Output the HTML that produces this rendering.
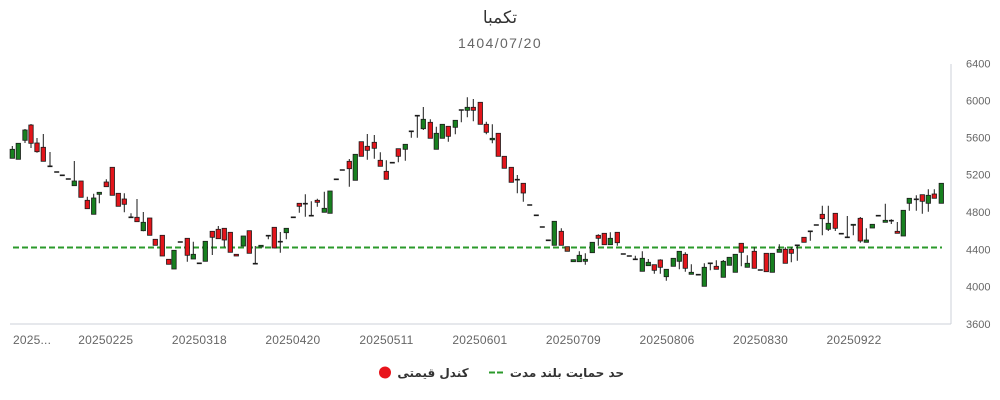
<!DOCTYPE html>
<html><head><meta charset="utf-8"><style>
html,body{margin:0;padding:0;background:#fff;width:1000px;height:400px;overflow:hidden}
svg{display:block}
</style></head><body>
<svg width="1000" height="400" viewBox="0 0 1000 400" xmlns="http://www.w3.org/2000/svg">
<text x="500" y="23" text-anchor="middle" font-family="'DejaVu Sans',sans-serif" font-size="17" fill="#333">تکمبا</text>
<text x="500" y="48" text-anchor="middle" font-family="'Liberation Sans',sans-serif" font-size="14" letter-spacing="1.4" fill="#666">1404/07/20</text>

<line x1="951" y1="64" x2="951" y2="324" stroke="#ccd1d9" stroke-width="1"/>
<line x1="10" y1="324" x2="951" y2="324" stroke="#ccd1d9" stroke-width="1"/>

<g font-family="'Liberation Sans',sans-serif" font-size="11" fill="#666">
<text x="966" y="67.5">6400</text>
<text x="966" y="104.5">6000</text>
<text x="966" y="141.5">5600</text>
<text x="966" y="178.5">5200</text>
<text x="966" y="216">4800</text>
<text x="966" y="253.5">4400</text>
<text x="966" y="290.5">4000</text>
<text x="966" y="328">3600</text>
</g>
<g font-family="'Liberation Sans',sans-serif" font-size="12" fill="#666" text-anchor="middle" letter-spacing="0.2">
<text x="13" y="344" text-anchor="start">2025...</text>
<text x="105.8" y="344">20250225</text>
<text x="199.4" y="344">20250318</text>
<text x="292.9" y="344">20250420</text>
<text x="386.4" y="344">20250511</text>
<text x="479.9" y="344">20250601</text>
<text x="573.4" y="344">20250709</text>
<text x="667" y="344">20250806</text>
<text x="760.5" y="344">20250830</text>
<text x="854" y="344">20250922</text>
</g>

<line x1="13" y1="247.5" x2="942" y2="247.5" stroke="#2b9a2b" stroke-width="2" stroke-dasharray="6,3"/>

<path fill="none" stroke="#1a1a1a" stroke-width="1" d="M12.3 146V158.3M25 129V143M31 124V148M37 138V152.7M43.3 134V161.3M50 152V166.3M74.3 161V185.7M87.3 196.7V208.7M93.7 193.7V214.3M99.3 192.3V203.3M106.3 179.3V186.7M124.3 193.3V212.3M131 213.3V217.3M137 199V221.7M143.3 212V231.3M187.3 238.3V261.7M193.3 241.7V259M212.3 231.3V255M218.3 226V238.7M224.3 228.3V247.3M255.3 246V263.7M268.3 235.7V239.3M280.3 232V252.7M286.3 228.3V239.3M299.3 203.3V212.7M305.3 194.3V216.7M311.3 201.3V215.7M317.3 198.7V206.7M324.3 191.7V212.3M349.3 159V186.7M367.3 134V159.7M374.3 135V158.7M380.3 152.3V166.3M386.3 160.3V179.3M398.3 148.7V162.3M405.3 144.3V160.7M411.3 131.3V137.7M417.3 115.7V137.7M423.3 107V130M430.3 119.3V138.3M436.3 126.7V149.3M448.3 126.3V141.7M455.3 120.3V134.3M461.3 110V122.3M467.3 97.3V117.3M473.3 99V121.3M486.3 121.7V134.3M492.3 124.3V143.3M517.3 175V193.3M523.3 183.3V201.7M561.3 228.3V245.3M579.3 251.3V261.7M585.3 253.3V264.7M598.3 234.3V245.7M610.3 232.3V244.7M617.3 232.3V245.7M635.3 255.7V259.3M642.3 251.3V271.3M648.3 259V265.7M654.3 264.7V273.7M660.3 259.3V273.7M666.3 269.3V280.7M679.3 251.3V269.3M685.3 252.3V271.7M691.3 264.3V274.3M704.3 263.3V286.3M710.3 263.3V270.3M716.3 260.3V269.3M723.3 260V277.3M741.3 243.3V266.3M747.3 255.3V267.3M754.3 247.3V268.3M779.3 244.3V252.3M785.3 247.3V263.3M791.3 247.3V262.3M797.3 245.3V260.7M810.3 231.3V240.7M822.3 205.7V235.3M828.3 205.7V231M835.3 213.3V231M847.3 216V237.3M853.3 224.3V235.3M860.3 217V242.7M866.3 228.3V242.3M885.3 203.7V222.3M891.3 219.3V224M897.3 222V233.3M909.3 198.3V210.7M916.3 195.3V210.7M922.3 194.7V213.7M928.3 189.3V211.7M934.3 189.3V198.3"/>

<path fill="none" stroke="#1a1a1a" stroke-width="1.6" d="M47.5 166.3h5M54.2 172h5M59.8 175.3h5M65.8 179h5M128.5 217.3h5M177.8 242h5M196.8 263.3h5M252.8 263.7h5M265.8 235.7h5M277.8 241.7h5M290.8 217.3h5M302.8 203.7h5M308.8 215.7h5M333.8 179.3h5M339.8 170h5M389.8 162.7h5M408.8 131.3h5M414.8 115.7h5M458.8 110h5M514.8 179.7h5M527.2 205h5M533.8 215.3h5M539.8 227h5M545.8 240.3h5M620.8 254h5M626.8 256h5M632.8 259.3h5M695.8 274.7h5M707.8 263.3h5M757.8 270h5M794.8 245.3h5M807.8 231.3h5M813.8 225h5M838.8 233.7h5M844.8 237.3h5M875.8 215.7h5M888.8 220.7h5M913.8 199.3h5"/>

<g fill="#17801f" stroke="#1a1a1a" stroke-width="0.8">
<rect x="10.1" y="149.3" width="4.4" height="9"/>
<rect x="16.1" y="143.3" width="4.4" height="16"/>
<rect x="22.8" y="130" width="4.4" height="10.3"/>
<rect x="72.1" y="181" width="4.4" height="4.7"/>
<rect x="91.5" y="198" width="4.4" height="16.3"/>
<rect x="97.1" y="192.3" width="4.4" height="2"/>
<rect x="141.1" y="222.3" width="4.4" height="8.4"/>
<rect x="171.8" y="250.3" width="4.4" height="18.7"/>
<rect x="191.1" y="254.3" width="4.4" height="4.7"/>
<rect x="203.1" y="241.3" width="4.4" height="20"/>
<rect x="241.1" y="236" width="4.4" height="10"/>
<rect x="258.8" y="245.3" width="4.4" height="1.7"/>
<rect x="284.1" y="228.3" width="4.4" height="4.4"/>
<rect x="322.1" y="208.3" width="4.4" height="4"/>
<rect x="327.8" y="191" width="4.4" height="22.3"/>
<rect x="353.1" y="154.3" width="4.4" height="26"/>
<rect x="403.1" y="144.3" width="4.4" height="5"/>
<rect x="421.1" y="119.3" width="4.4" height="9.4"/>
<rect x="434.1" y="133.3" width="4.4" height="16"/>
<rect x="440.1" y="124.3" width="4.4" height="14"/>
<rect x="453.1" y="120.3" width="4.4" height="7"/>
<rect x="465.1" y="107.3" width="4.4" height="3"/>
<rect x="490.1" y="138.3" width="4.4" height="1.5"/>
<rect x="552.1" y="221.3" width="4.4" height="24"/>
<rect x="571.1" y="259.7" width="4.4" height="2"/>
<rect x="577.1" y="255.3" width="4.4" height="6.4"/>
<rect x="583.1" y="259.3" width="4.4" height="2"/>
<rect x="590.1" y="242.3" width="4.4" height="10.4"/>
<rect x="608.1" y="238.3" width="4.4" height="6.4"/>
<rect x="640.1" y="258.3" width="4.4" height="13"/>
<rect x="646.1" y="262.3" width="4.4" height="3.4"/>
<rect x="664.1" y="269.3" width="4.4" height="7.4"/>
<rect x="671.1" y="258.3" width="4.4" height="8"/>
<rect x="677.1" y="251.3" width="4.4" height="10"/>
<rect x="689.1" y="272.3" width="4.4" height="2"/>
<rect x="702.1" y="267.3" width="4.4" height="19"/>
<rect x="721.1" y="261.3" width="4.4" height="16"/>
<rect x="727.1" y="257.3" width="4.4" height="8"/>
<rect x="733.1" y="254.3" width="4.4" height="18"/>
<rect x="745.1" y="263.3" width="4.4" height="4"/>
<rect x="770.1" y="253.3" width="4.4" height="19"/>
<rect x="777.1" y="249.3" width="4.4" height="3"/>
<rect x="826.1" y="223.3" width="4.4" height="6"/>
<rect x="851.1" y="224.3" width="4.4" height="1"/>
<rect x="864.1" y="240" width="4.4" height="2.3"/>
<rect x="870.1" y="224.3" width="4.4" height="3.7"/>
<rect x="883.1" y="220.3" width="4.4" height="2"/>
<rect x="901.1" y="210.3" width="4.4" height="25.7"/>
<rect x="907.1" y="198.3" width="4.4" height="5"/>
<rect x="926.1" y="195.3" width="4.4" height="8"/>
<rect x="939.1" y="183.3" width="4.4" height="20"/>
</g>

<g fill="#e3151b" stroke="#1a1a1a" stroke-width="0.8">
<rect x="28.8" y="125" width="4.4" height="18.3"/>
<rect x="34.8" y="143" width="4.4" height="8.7"/>
<rect x="41.1" y="147.3" width="4.4" height="14"/>
<rect x="78.8" y="181" width="4.4" height="16.3"/>
<rect x="85.1" y="200.3" width="4.4" height="8.4"/>
<rect x="104.1" y="182" width="4.4" height="4.7"/>
<rect x="110.1" y="167.3" width="4.4" height="28"/>
<rect x="116.1" y="193.3" width="4.4" height="13"/>
<rect x="122.1" y="199" width="4.4" height="5.3"/>
<rect x="134.8" y="217.3" width="4.4" height="4.4"/>
<rect x="147.5" y="218" width="4.4" height="17.3"/>
<rect x="153.1" y="239.3" width="4.4" height="6"/>
<rect x="160.1" y="235.3" width="4.4" height="20.7"/>
<rect x="166.5" y="259.3" width="4.4" height="5"/>
<rect x="185.1" y="238.3" width="4.4" height="17"/>
<rect x="210.1" y="231.3" width="4.4" height="6"/>
<rect x="216.1" y="229.3" width="4.4" height="9.4"/>
<rect x="222.1" y="228.3" width="4.4" height="11.7"/>
<rect x="228.1" y="232.3" width="4.4" height="20"/>
<rect x="234.1" y="254.3" width="4.4" height="1.7"/>
<rect x="247.1" y="230.7" width="4.4" height="22.6"/>
<rect x="272.1" y="227.3" width="4.4" height="20.7"/>
<rect x="297.1" y="203.3" width="4.4" height="3"/>
<rect x="315.1" y="200.3" width="4.4" height="2"/>
<rect x="347.1" y="161.3" width="4.4" height="7.4"/>
<rect x="359.1" y="141.7" width="4.4" height="14.6"/>
<rect x="365.1" y="146.3" width="4.4" height="4"/>
<rect x="372.1" y="142.3" width="4.4" height="6"/>
<rect x="378.1" y="160.3" width="4.4" height="6"/>
<rect x="384.1" y="171.3" width="4.4" height="8"/>
<rect x="396.1" y="148.7" width="4.4" height="7.6"/>
<rect x="428.1" y="122.3" width="4.4" height="16"/>
<rect x="446.1" y="126.3" width="4.4" height="10"/>
<rect x="471.1" y="107.3" width="4.4" height="3"/>
<rect x="478.1" y="102.3" width="4.4" height="22"/>
<rect x="484.1" y="124.3" width="4.4" height="8"/>
<rect x="496.1" y="133.3" width="4.4" height="23"/>
<rect x="502.1" y="156.3" width="4.4" height="12"/>
<rect x="509.1" y="167.3" width="4.4" height="15"/>
<rect x="521.1" y="183.3" width="4.4" height="9.7"/>
<rect x="559.1" y="231.3" width="4.4" height="14"/>
<rect x="565.1" y="246.7" width="4.4" height="4.6" fill="#b5401c"/>
<rect x="596.1" y="235.3" width="4.4" height="3"/>
<rect x="602.1" y="233.3" width="4.4" height="11.4"/>
<rect x="615.1" y="232.3" width="4.4" height="10.4"/>
<rect x="652.1" y="264.7" width="4.4" height="5.6"/>
<rect x="658.1" y="260" width="4.4" height="7.3"/>
<rect x="683.1" y="254.3" width="4.4" height="14"/>
<rect x="714.1" y="266.3" width="4.4" height="3"/>
<rect x="739.1" y="243.3" width="4.4" height="9"/>
<rect x="752.1" y="251.3" width="4.4" height="17"/>
<rect x="764.1" y="253.3" width="4.4" height="18.4"/>
<rect x="783.1" y="249.3" width="4.4" height="14"/>
<rect x="789.1" y="249.3" width="4.4" height="4"/>
<rect x="801.8" y="237.3" width="4.4" height="5"/>
<rect x="820.1" y="214.3" width="4.4" height="4.4"/>
<rect x="833.1" y="213.3" width="4.4" height="15"/>
<rect x="858.1" y="218.3" width="4.4" height="22.7"/>
<rect x="895.1" y="231.3" width="4.4" height="2"/>
<rect x="920.1" y="194.7" width="4.4" height="6.6"/>
<rect x="932.1" y="194" width="4.4" height="4.3"/>
</g>

<circle cx="385" cy="372.5" r="6" fill="#e8141c"/>
<text x="433" y="377" text-anchor="middle" font-family="'DejaVu Sans',sans-serif" font-size="12" font-weight="bold" fill="#333">کندل قیمتی</text>
<path d="M489 372.5h6M497 372.5h6" stroke="#2b9a2b" stroke-width="2"/>
<text x="567" y="377" text-anchor="middle" font-family="'DejaVu Sans',sans-serif" font-size="12" font-weight="bold" fill="#333">حد حمایت بلند مدت</text>
</svg>
</body></html>
